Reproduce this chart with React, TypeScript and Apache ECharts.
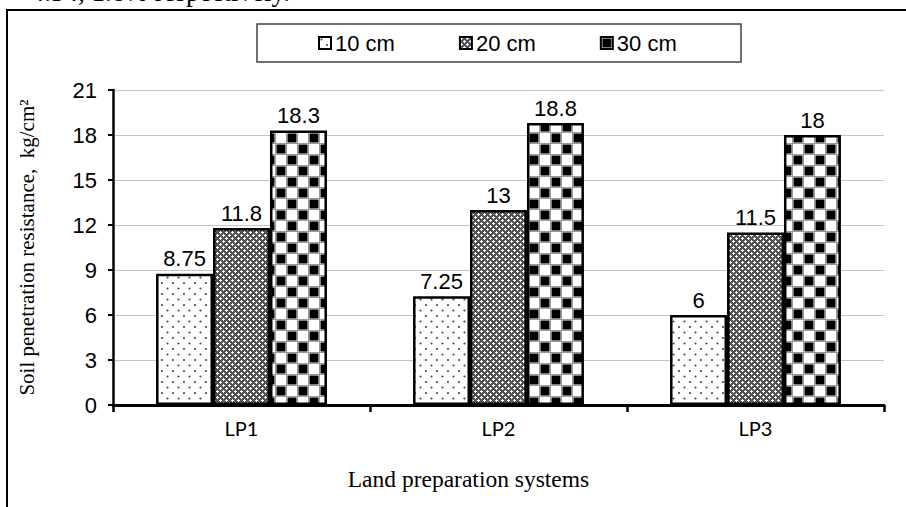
import React, { useEffect, useRef } from 'react';
import * as echarts from 'echarts';

const categories = ['LP1', 'LP2', 'LP3'];
const seriesNames = ['10 cm', '20 cm', '30 cm'];
const depth10 = [8.75, 7.25, 6];
const depth20 = [11.8, 13, 11.5];
const depth30 = [18.3, 18.8, 18];
const yMin = 0;
const yMax = 21;
const yInterval = 3;
const yTitle = 'Soil penetration resistance,  kg/cm²';
const xTitle = 'Land preparation systems';
const topText = '4.34, 1.8% respectively.';

function makeCanvas(w: number, h: number) {
  const c = document.createElement('canvas');
  c.width = w;
  c.height = h;
  return c;
}

function dotsPattern() {
  const c = makeCanvas(11, 11);
  const g = c.getContext('2d')!;
  g.fillStyle = '#ffffff';
  g.fillRect(0, 0, 11, 11);
  g.fillStyle = '#4a4a4a';
  g.beginPath();
  g.arc(2.5, 2.5, 1.1, 0, Math.PI * 2);
  g.arc(8, 8, 1.1, 0, Math.PI * 2);
  g.fill();
  return c;
}

function crossPattern() {
  const c = makeCanvas(6, 6);
  const g = c.getContext('2d')!;
  g.fillStyle = '#525252';
  g.fillRect(0, 0, 6, 6);
  g.fillStyle = '#ffffff';
  const px = [[1, 0], [0, 1], [1, 1], [2, 1], [1, 2], [4, 3], [3, 4], [4, 4], [5, 4], [4, 5]];
  px.forEach(([x, y]) => g.fillRect(x, y, 1, 1));
  return c;
}

function checkerPattern() {
  const c = makeCanvas(22, 22);
  const g = c.getContext('2d')!;
  g.fillStyle = '#ffffff';
  g.fillRect(0, 0, 22, 22);
  g.fillStyle = '#9a9a9a';
  g.fillRect(0, 0, 22, 1);
  g.fillRect(0, 11, 22, 1);
  g.fillRect(0, 0, 1, 22);
  g.fillRect(11, 0, 1, 22);
  g.fillStyle = '#000000';
  g.fillRect(1.5, 1.5, 9, 9);
  g.fillRect(12.5, 12.5, 9, 9);
  return c;
}

export default function App() {
  const ref = useRef<HTMLDivElement>(null);

  useEffect(() => {
    if (!ref.current) return;
    const chart = echarts.init(ref.current, undefined, { renderer: 'svg' });
    const pats = [
      { c: dotsPattern(), w: 11, h: 11 },
      { c: crossPattern(), w: 6, h: 6 },
      { c: checkerPattern(), w: 22, h: 22 },
    ];
    const datas = [depth10, depth20, depth30];
    const series = datas.map((d, i) => ({
      name: seriesNames[i],
      type: 'bar',
      data: d,
      barGap: '0%',
      barCategoryGap: '33.5%',
      itemStyle: {
        color: {
          image: pats[i].c,
          imageWidth: pats[i].w,
          imageHeight: pats[i].h,
          repeat: 'repeat',
        } as any,
        borderColor: '#000',
        borderWidth: 2.5,
      },
      label: {
        show: true,
        position: 'top',
        distance: 4,
        color: '#000',
        fontSize: 22,
        fontFamily: 'Liberation Sans, Arial, sans-serif',
      },
    }));

    chart.setOption({
      animation: false,
      backgroundColor: '#ffffff',
      grid: { left: 113, right: 22, top: 90, bottom: 102, containLabel: false },
      legend: {
        data: seriesNames,
        left: 318,
        top: 32,
        padding: 0,
        itemGap: 64,
        itemWidth: 12,
        itemHeight: 12,
        icon: 'rect',
        textStyle: { fontSize: 22, color: '#000', fontFamily: 'Liberation Sans, Arial, sans-serif', padding: [0, 0, 0, -1] },
      },
      xAxis: {
        type: 'category',
        data: categories,
        name: xTitle,
        nameLocation: 'middle',
        nameGap: 62,
        nameTextStyle: {
          fontFamily: 'Liberation Serif, Times New Roman, serif',
          fontSize: 23.5,
          color: '#000',
          padding: [0, 60, 0, 0],
        },
        axisLine: { lineStyle: { color: '#000', width: 3 } },
        axisTick: { show: true, length: 7, lineStyle: { color: '#000', width: 2.5 } },
        axisLabel: { fontFamily: 'Lato, sans-serif', fontSize: 20, color: '#000', margin: 13 },
      },
      yAxis: {
        type: 'value',
        min: yMin,
        max: yMax,
        interval: yInterval,
        name: yTitle,
        nameLocation: 'middle',
        nameGap: 76,
        nameTextStyle: {
          fontFamily: 'Liberation Serif, Times New Roman, serif',
          fontSize: 21,
          color: '#000',
        },
        axisLine: { show: true, lineStyle: { color: '#000', width: 2.5 } },
        axisTick: { show: true, length: 5, lineStyle: { color: '#000', width: 2 } },
        axisLabel: { fontFamily: 'Liberation Sans, Arial, sans-serif', fontSize: 22, color: '#000', margin: 16 },
        splitLine: { show: true, lineStyle: { color: '#c4c4c4', width: 1 } },
      },
      graphic: [
        {
          type: 'rect',
          z: -1,
          shape: { x: 7, y: 10, width: 960, height: 600 },
          style: { fill: 'none', stroke: '#000', lineWidth: 2 },
        },
        {
          type: 'rect',
          z: -1,
          shape: { x: 257, y: 24, width: 484, height: 38 },
          style: { fill: 'none', stroke: '#404040', lineWidth: 1.5 },
        },
        {
          type: 'text',
          x: 290,
          y: 5,
          style: {
            text: topText,
            align: 'right',
            verticalAlign: 'bottom',
            font: '27px "Liberation Serif", "Times New Roman", serif',
            fill: '#000',
          },
        },
      ],
      series,
    });
    return () => chart.dispose();
  }, []);

  return (
    <div
      ref={ref}
      style={{ position: 'fixed', left: 0, top: 0, width: 906, height: 507, background: '#fff' }}
    />
  );
}
